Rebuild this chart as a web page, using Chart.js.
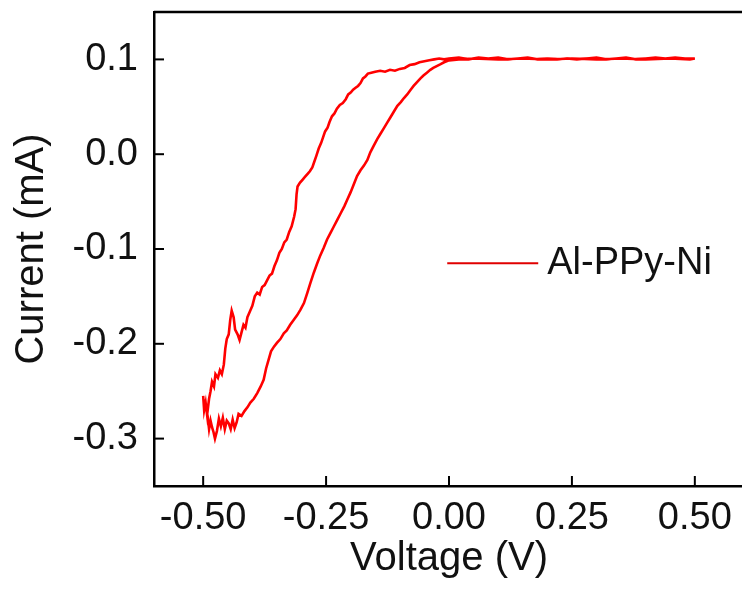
<!DOCTYPE html>
<html>
<head>
<meta charset="utf-8">
<script src="https://cdn.jsdelivr.net/npm/chart.js@4/dist/chart.umd.min.js"></script>
<style>
html,body{margin:0;padding:0;background:#fff;overflow:hidden}
canvas{display:block}
</style>
</head>
<body>
<canvas id="graficoCV" width="748" height="591"></canvas>
<script>

// tensão (V) e corrente (mA), na ordem da varredura
let voltagem=[
-0.500,-0.498,-0.495,-0.492,-0.488,-0.485,-0.482,-0.478,-0.475,-0.470,
-0.466,-0.462,-0.458,-0.455,-0.452,-0.448,-0.445,-0.442,-0.438,-0.435,
-0.430,-0.426,-0.422,-0.418,-0.414,-0.410,-0.405,-0.400,-0.395,-0.390,
-0.385,-0.380,-0.375,-0.370,-0.365,-0.360,-0.355,-0.350,-0.345,-0.340,
-0.335,-0.330,-0.325,-0.320,-0.315,-0.312,-0.310,-0.308,-0.303,-0.298,
-0.293,-0.288,-0.283,-0.278,-0.274,-0.270,-0.265,-0.260,-0.256,-0.252,
-0.247,-0.243,-0.238,-0.233,-0.228,-0.222,-0.216,-0.210,-0.205,-0.200,
-0.195,-0.190,-0.185,-0.180,-0.175,-0.170,-0.165,-0.158,-0.150,-0.140,
-0.130,-0.120,-0.110,-0.100,-0.090,-0.080,-0.070,-0.060,-0.050,-0.040,
-0.030,-0.020,-0.010,0.000,
0.02,0.04,0.06,0.08,0.10,0.12,0.14,0.16,0.18,0.20,
0.22,0.24,0.26,0.28,0.30,0.32,0.34,0.36,0.38,0.40,
0.42,0.44,0.46,0.48,0.50,
0.49,0.45,0.40,0.35,0.30,0.25,0.20,0.15,0.10,0.05,0.02,
0.000,-0.010,-0.017,-0.025,-0.032,-0.038,-0.045,-0.052,-0.058,-0.065,
-0.072,-0.078,-0.085,-0.092,-0.098,-0.105,-0.112,-0.119,-0.126,-0.133,
-0.140,-0.146,-0.153,-0.160,-0.166,-0.173,-0.180,-0.187,-0.193,-0.200,
-0.207,-0.213,-0.220,-0.227,-0.234,-0.241,-0.248,-0.255,-0.262,-0.268,
-0.275,-0.282,-0.288,-0.295,-0.302,-0.309,-0.316,-0.323,-0.330,-0.336,
-0.343,-0.350,-0.356,-0.362,-0.367,-0.372,-0.377,-0.383,-0.390,-0.397,
-0.404,-0.410,-0.416,-0.422,-0.428,-0.432,-0.436,-0.440,-0.444,-0.448,
-0.452,-0.456,-0.460,-0.464,-0.468,-0.472,-0.476,-0.479,-0.482,-0.485,
-0.488,-0.491,-0.494,-0.497,-0.500
]

let corrente=[
-0.255,-0.270,-0.262,-0.275,-0.258,-0.250,-0.240,-0.245,-0.232,-0.236,
-0.228,-0.232,-0.222,-0.205,-0.195,-0.190,-0.175,-0.165,-0.172,-0.185,
-0.190,-0.196,-0.188,-0.180,-0.183,-0.172,-0.166,-0.160,-0.150,-0.146,
-0.148,-0.140,-0.138,-0.133,-0.128,-0.126,-0.118,-0.112,-0.104,-0.100,
-0.093,-0.090,-0.082,-0.076,-0.066,-0.058,-0.042,-0.034,-0.030,-0.027,
-0.024,-0.021,-0.018,-0.014,-0.008,-0.002,0.006,0.012,0.018,0.024,
0.028,0.034,0.040,0.043,0.048,0.052,0.054,0.058,0.063,0.065,
0.068,0.070,0.072,0.075,0.080,0.082,0.085,0.086,0.087,0.088,
0.087,0.089,0.088,0.090,0.091,0.094,0.095,0.097,0.098,0.099,
0.100,0.101,0.100,0.101,
0.102,0.100,0.102,0.101,0.102,0.100,0.101,0.102,0.100,0.101,
0.100,0.101,0.100,0.101,0.102,0.100,0.101,0.102,0.100,0.101,
0.102,0.101,0.102,0.101,0.101,
0.100,0.101,0.100,0.101,0.100,0.101,0.100,0.101,0.100,0.101,0.100,
0.099,0.097,0.095,0.093,0.091,0.089,0.086,0.083,0.080,0.076,
0.072,0.068,0.063,0.059,0.055,0.051,0.045,0.039,0.033,0.027,
0.021,0.016,0.009,0.002,-0.006,-0.012,-0.017,-0.023,-0.031,-0.040,
-0.048,-0.055,-0.062,-0.069,-0.076,-0.083,-0.090,-0.099,-0.107,-0.115,
-0.125,-0.136,-0.146,-0.157,-0.164,-0.170,-0.175,-0.180,-0.186,-0.189,
-0.195,-0.199,-0.203,-0.208,-0.217,-0.226,-0.238,-0.245,-0.252,-0.258,
-0.262,-0.267,-0.271,-0.276,-0.274,-0.283,-0.289,-0.280,-0.290,-0.284,
-0.281,-0.290,-0.278,-0.287,-0.279,-0.292,-0.300,-0.293,-0.288,-0.281,
-0.290,-0.276,-0.268,-0.262,-0.258
]

let ticksX=[-0.50,-0.25,0.00,0.25,0.50]
let ticksY=[-0.3,-0.2,-0.1,0.0,0.1]
let nomeSerie='Al-PPy-Ni'

let pontos=voltagem.map((v,i)=>({x:v,y:corrente[i]}))

let fonte='"Liberation Sans", Arial, sans-serif'

// moldura de cima/direita e ticks para dentro
let molduraPlugin={
id:'moldura',
afterDraw(chart){
let ctx=chart.ctx
let a=chart.chartArea
let sx=chart.scales.x
let sy=chart.scales.y
ctx.save()
ctx.strokeStyle='#000'
ctx.lineWidth=2.5
ctx.beginPath()
ctx.moveTo(a.left,a.top)
ctx.lineTo(a.right,a.top)
ctx.lineTo(a.right,a.bottom)
ctx.stroke()
ctx.lineWidth=2
ticksX.forEach(v=>{
let px=sx.getPixelForValue(v)
ctx.beginPath()
ctx.moveTo(px,a.bottom)
ctx.lineTo(px,a.bottom-10)
ctx.stroke()
})
ticksY.forEach(v=>{
let py=sy.getPixelForValue(v)
ctx.beginPath()
ctx.moveTo(a.left,py)
ctx.lineTo(a.left+10,py)
ctx.stroke()
})
ctx.restore()
}
}

let legendaPlugin={
id:'legendaInterna',
afterDraw(chart){
let ctx=chart.ctx
let a=chart.chartArea
let x0=a.left+(a.right-a.left)*0.497
let y0=a.top+(a.bottom-a.top)*0.53
ctx.save()
ctx.strokeStyle='#e00000'
ctx.lineWidth=2
ctx.beginPath()
ctx.moveTo(x0,y0)
ctx.lineTo(x0+91,y0)
ctx.stroke()
ctx.fillStyle='#111'
ctx.font='38px '+fonte
ctx.textBaseline='middle'
ctx.fillText(nomeSerie,x0+100,y0)
ctx.restore()
}
}

let semMargem=s=>{
s.paddingTop=0
s.paddingBottom=0
s.paddingLeft=0
s.paddingRight=0
}

new Chart(document.getElementById('graficoCV'),{
type:'scatter',
data:{
datasets:[{
label:nomeSerie,
data:pontos,
showLine:true,
borderColor:'#ff0000',
backgroundColor:'#ff0000',
borderWidth:2.6,
pointRadius:0,
tension:0
}]
},
options:{
responsive:false,
animation:false,
layout:{padding:{top:12,right:4,left:0,bottom:0}},
plugins:{
legend:{display:false},
tooltip:{enabled:false}
},
scales:{
x:{
type:'linear',
min:-0.6,
max:0.6,
afterBuildTicks(s){s.ticks=ticksX.map(v=>({value:v}))},
afterFit(s){s.height=105;semMargem(s)},
grid:{display:false,drawTicks:false},
border:{display:true,color:'#000',width:2.5},
ticks:{
color:'#111',
padding:10,
font:{family:fonte,size:38},
callback:v=>Number(v).toFixed(2)
},
title:{
display:true,
text:'Voltage (V)',
color:'#111',
font:{family:fonte,size:40},
padding:{top:0,bottom:8}
}
},
y:{
type:'linear',
min:-0.35,
max:0.15,
afterBuildTicks(s){s.ticks=ticksY.map(v=>({value:v}))},
afterFit(s){s.width=154;semMargem(s)},
grid:{display:false,drawTicks:false},
border:{display:true,color:'#000',width:2.5},
ticks:{
color:'#111',
padding:16,
font:{family:fonte,size:38},
callback:v=>Number(v).toFixed(1)
},
title:{
display:true,
text:'Current (mA)',
color:'#111',
font:{family:fonte,size:40},
padding:{top:8,bottom:0}
}
}
}
},
plugins:[molduraPlugin,legendaPlugin]
})

</script>
</body>
</html>
